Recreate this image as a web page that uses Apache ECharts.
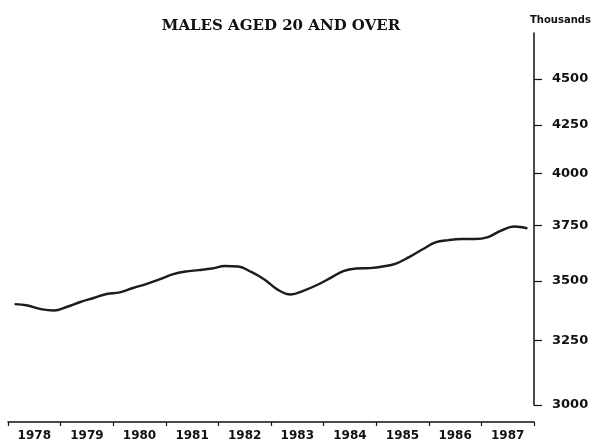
<!DOCTYPE html>
<html>
<head>
<meta charset="utf-8">
<script src="https://cdn.jsdelivr.net/npm/echarts@6/dist/echarts.min.js"></script>
<style>
  html, body { margin: 0; padding: 0; background: #fff; }
  #chart { width: 592px; height: 442px; }
</style>
</head>
<body>
<div id="chart"></div>
<script>
// Category labels for the x axis
const years = ['1978', '1979', '1980', '1981', '1982', '1983', '1984', '1985', '1986', '1987'];
// Quarterly values (thousands), 1978 Q1 .. 1987 Q4
const quarterValues = [
  3401, 3395, 3380, 3374,
  3390, 3410, 3427, 3444,
  3451, 3470, 3487, 3507,
  3529, 3542, 3548, 3555,
  3566, 3564, 3540, 3507,
  3463, 3442, 3459, 3483,
  3513, 3544, 3555, 3557,
  3564, 3577, 3606, 3640,
  3672, 3683, 3688, 3688,
  3697, 3727, 3746, 3737
];
// Y axis tick labels
const yTicks = [3000, 3250, 3500, 3750, 4000, 4250, 4500];
const titleText = 'MALES AGED 20 AND OVER';
const unitText = 'Thousands';

const startYear = Number(years[0]);
const seriesData = quarterValues.map((v, i) => [startYear + 0.125 + 0.25 * i, v]);

const chart = echarts.init(document.getElementById('chart'), null, { renderer: 'canvas' });
const labelFont = { fontFamily: 'DejaVu Sans', fontWeight: 'bold', color: '#111' };

chart.setOption({
  animation: false,
  backgroundColor: '#fff',
  title: [
    {
      text: titleText,
      left: 276, top: 14, textAlign: 'center',
      textStyle: { fontFamily: 'DejaVu Serif', fontWeight: 'bold', fontSize: 15, color: '#111' }
    },
    {
      text: unitText,
      left: 525, top: 10,
      textStyle: { fontFamily: 'DejaVu Sans', fontWeight: 'bold', fontSize: 10, color: '#111' }
    }
  ],
  grid: { left: 8, right: 58, top: 33, bottom: 37, containLabel: false },
  xAxis: [
    {
      type: 'category',
      data: years,
      position: 'bottom',
      offset: 17,
      boundaryGap: true,
      axisLine: { show: true, lineStyle: { color: '#111', width: 1.5 } },
      axisTick: { show: true, alignWithLabel: false, inside: false, length: 4, lineStyle: { color: '#111', width: 1.2 } },
      axisLabel: Object.assign({ interval: 0, margin: 8, fontSize: 12 }, labelFont),
      splitLine: { show: false }
    },
    {
      type: 'value',
      min: startYear,
      max: startYear + years.length,
      show: false,
      splitLine: { show: false }
    }
  ],
  yAxis: {
    type: 'log',
    position: 'right',
    min: 3000,
    max: 4765,
    axisLine: { show: true, lineStyle: { color: '#111', width: 1.5 } },
    axisTick: { show: true, inside: false, length: 8, customValues: yTicks, lineStyle: { color: '#111', width: 1.2 } },
    axisLabel: Object.assign({ margin: 18, fontSize: 13, customValues: yTicks, formatter: (v) => String(Math.round(v)) }, labelFont),
    splitLine: { show: false },
    minorTick: { show: false }
  },
  series: [
    {
      type: 'line',
      xAxisIndex: 1,
      data: seriesData,
      smooth: 0.4,
      symbol: 'none',
      lineStyle: { color: '#1c1c1c', width: 2.4 }
    }
  ]
});
</script>
</body>
</html>
